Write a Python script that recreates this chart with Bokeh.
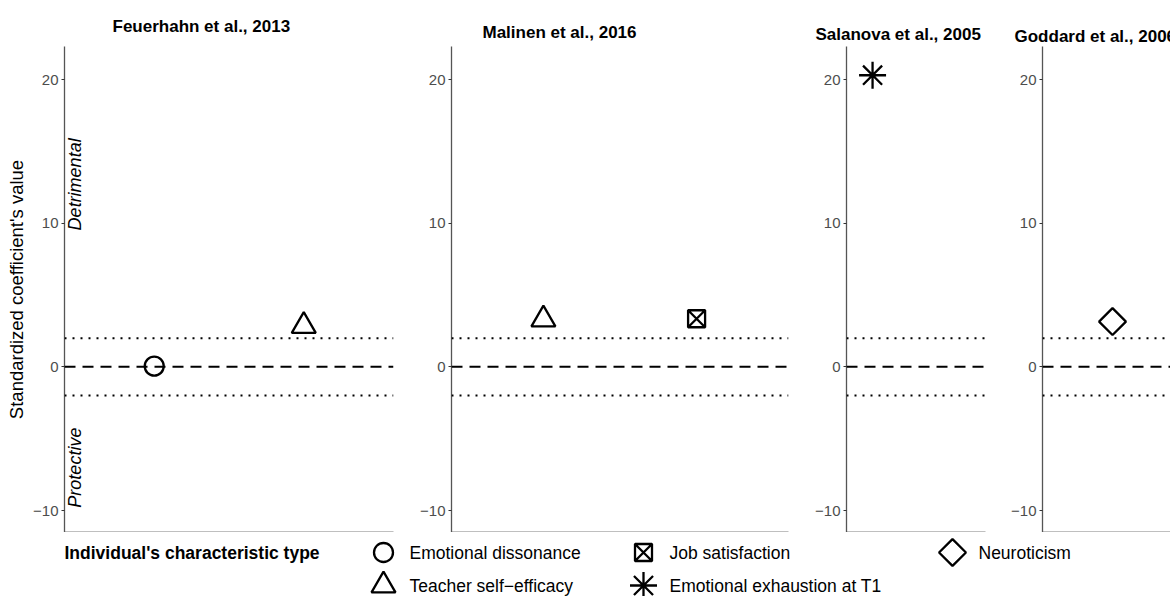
import math
from bokeh.plotting import figure
from bokeh.models import Range1d, Span, FixedTicker, ColumnDataSource, Label
from bokeh.layouts import row, column
from bokeh.embed import file_html
from bokeh.resources import INLINE

# ---------------- data ----------------
studies = ["Feuerhahn et al., 2013", "Malinen et al., 2016",
           "Salanova et al., 2005", "Goddard et al., 2006"]
point_study = [0, 0, 1, 1, 2, 3]
point_type = ["Emotional dissonance", "Teacher self\u2212efficacy",
              "Teacher self\u2212efficacy", "Job satisfaction",
              "Emotional exhaustion at T1", "Neuroticism"]
point_pos = [1, 2, 1, 2, 1, 1]
point_value = [0.05, 2.85, 3.3, 3.35, 20.3, 3.15]
legend_types = ["Emotional dissonance", "Teacher self\u2212efficacy",
                "Job satisfaction", "Emotional exhaustion at T1", "Neuroticism"]
y_ticks = [-10, 0, 10, 20]
threshold = 2
y_label = "Standardized coefficient's value"
x_label = "Individual's characteristic type"
zone_labels = ["Detrimental", "Protective"]
zone_starts = [9.5, -9.8]

# ---------------- style ----------------
FONT = "Liberation Sans"
marker_style = {
    "Emotional dissonance": ("circle", 19, 0.0),
    "Teacher self\u2212efficacy": ("triangle", 24, 0.0),
    "Job satisfaction": ("square_x", 17, 0.0),
    "Emotional exhaustion at T1": ("asterisk", 27, 0.0),
    "Neuroticism": ("square", 19, math.pi / 4),
}
Y0, Y1 = -11.53, 22.3
# page layout (left edge, frame left, frame right, right edge, x-range, title x, title standoff)
panels = [
    (0, 64, 393, 415, (0.4, 2.6), 112, 21),
    (415, 451, 788, 800, (0.4, 2.6), 482, 10),
    (800, 846, 985, 995, (0.4, 3.6), 815, 5),
    (995, 1042, 1170, 1170, (0.4, 1.497), 1014, 2),
]
FRAME_TOP, FRAME_BOTTOM = 46, 532

figs = []
for i, (left, fl, fr, right, xr, tx, tso) in enumerate(panels):
    p = figure(frame_width=fr - fl, frame_height=FRAME_BOTTOM - FRAME_TOP,
               x_range=Range1d(*xr), y_range=Range1d(Y0, Y1),
               min_border_left=fl - left, min_border_right=right - fr,
               min_border_top=FRAME_TOP, min_border_bottom=0,
               toolbar_location=None, output_backend="svg",
               background_fill_color="white", border_fill_color="white")
    p.outline_line_color = None
    p.grid.visible = False
    p.title.text = studies[i]
    p.title.align = "left"
    p.title.offset = tx - fl
    p.title.standoff = tso
    p.title.text_font = FONT
    p.title.text_font_size = "17px"
    p.title.text_font_style = "bold"
    p.title.text_color = "black"

    ya = p.yaxis[0]
    ya.ticker = FixedTicker(ticks=y_ticks)
    ya.major_label_overrides = {t: (str(t).replace("-", "\u2212")) for t in y_ticks}
    ya.major_label_text_font = FONT
    ya.major_label_text_font_size = "15px"
    ya.major_label_text_color = "#4D4D4D"
    ya.major_label_standoff = 3
    ya.major_tick_out = 3
    ya.major_tick_in = 0
    ya.minor_tick_out = 0
    ya.minor_tick_in = 0
    ya.major_tick_line_color = "#333333"
    ya.axis_line_color = "#555555"
    ya.axis_line_width = 1.3
    if i == 0:
        ya.axis_label = y_label
        ya.axis_label_text_font = FONT
        ya.axis_label_text_font_size = "18.5px"
        ya.axis_label_text_font_style = "normal"
        ya.axis_label_text_color = "black"
        ya.axis_label_standoff = 3

    xa = p.xaxis[0]
    xa.ticker = FixedTicker(ticks=[])
    xa.major_label_text_font_size = "0px"
    xa.major_tick_out = 0
    xa.major_tick_in = 0
    xa.minor_tick_out = 0
    xa.minor_tick_in = 0
    xa.major_label_standoff = 0
    xa.axis_line_color = "black"
    xa.axis_line_width = 1.3

    p.add_layout(Span(location=0, dimension="width", line_color="black",
                      line_width=2, line_dash="11 7"))
    for s in (threshold, -threshold):
        p.add_layout(Span(location=s, dimension="width", line_color="black",
                          line_width=2, line_dash="2 6"))

    idx = [k for k, s in enumerate(point_study) if s == i]
    src = ColumnDataSource(dict(
        x=[point_pos[k] for k in idx],
        y=[point_value[k] for k in idx],
        marker=[marker_style[point_type[k]][0] for k in idx],
        size=[marker_style[point_type[k]][1] for k in idx],
        angle=[marker_style[point_type[k]][2] for k in idx],
    ))
    p.scatter("x", "y", marker="marker", size="size", angle="angle", source=src,
              fill_color=None, line_color="black", line_width=2.3)

    if i == 0:
        for lab, ys in zip(zone_labels, zone_starts):
            p.add_layout(Label(x=xr[0], y=ys, text=lab, angle=math.pi / 2,
                               text_align="left", text_baseline="top", x_offset=0,
                               text_font=FONT, text_font_size="18px",
                               text_font_style="italic", text_color="black"))
    figs.append(p)

# ---------------- legend strip ----------------
LEG_TOP, LEG_BOTTOM = 532, 596
lf = figure(width=1170, height=LEG_BOTTOM - LEG_TOP,
            x_range=Range1d(0, 1170), y_range=Range1d(LEG_BOTTOM, LEG_TOP),
            min_border=0, toolbar_location=None, output_backend="svg",
            x_axis_location=None, y_axis_location=None)
lf.outline_line_color = None
lf.grid.visible = False

col_x = [383, 643, 952]
row_y = [552, 585]
lx, ly, lm, ls, la = [], [], [], [], []
for k, t in enumerate(legend_types):
    lx.append(col_x[k // 2])
    ly.append(row_y[k % 2])
    lm.append(marker_style[t][0])
    ls.append(marker_style[t][1])
    la.append(marker_style[t][2])
lsrc = ColumnDataSource(dict(x=lx, y=ly, marker=lm, size=ls, angle=la,
                             tx=[v + 26 for v in lx], text=legend_types))
lf.scatter("x", "y", marker="marker", size="size", angle="angle", source=lsrc,
           fill_color=None, line_color="black", line_width=2.3)
lf.text("tx", "y", text="text", source=lsrc, text_baseline="middle",
        text_align="left", text_font={"value": FONT}, text_font_size="17.5px",
        text_color="black")
lf.add_layout(Label(x=64, y=row_y[0], text=x_label, text_baseline="middle",
                    text_align="left", text_font=FONT, text_font_size="17.5px",
                    text_font_style="bold", text_color="black"))

layout = column(row(*figs, spacing=0), lf, spacing=0)
open("out.html", "w").write(file_html(layout, INLINE))
